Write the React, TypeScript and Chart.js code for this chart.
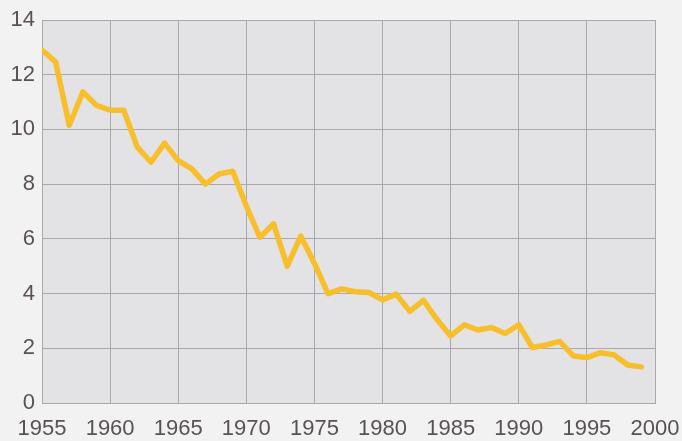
import React, { useEffect, useRef } from "react";
import { Chart, registerables } from "chart.js";

Chart.register(...registerables);

const years = [
  1955, 1956, 1957, 1958, 1959, 1960, 1961, 1962, 1963, 1964,
  1965, 1966, 1967, 1968, 1969, 1970, 1971, 1972, 1973, 1974,
  1975, 1976, 1977, 1978, 1979, 1980, 1981, 1982, 1983, 1984,
  1985, 1986, 1987, 1988, 1989, 1990, 1991, 1992, 1993, 1994,
  1995, 1996, 1997, 1998, 1999,
];
const values = [
  12.9, 12.47, 10.15, 11.37, 10.88, 10.7, 10.7, 9.35, 8.8, 9.5,
  8.86, 8.56, 8.0, 8.37, 8.47, 7.2, 6.05, 6.55, 5.0, 6.1,
  5.1, 4.0, 4.17, 4.07, 4.04, 3.77, 3.98, 3.35, 3.75, 3.05,
  2.45, 2.86, 2.67, 2.76, 2.54, 2.86, 2.03, 2.12, 2.25, 1.72,
  1.66, 1.84, 1.76, 1.39, 1.32,
];
const xTicks = [1955, 1960, 1965, 1970, 1975, 1980, 1985, 1990, 1995, 2000];
const yTicks = [0, 2, 4, 6, 8, 10, 12, 14];

const plotBg = {
  id: "plotBg",
  beforeDraw(chart: any) {
    const { ctx, chartArea, width, height } = chart;
    ctx.save();
    ctx.fillStyle = "#f2f2f2";
    ctx.fillRect(0, 0, width, height);
    ctx.fillStyle = "#e3e3e5";
    ctx.fillRect(chartArea.left, chartArea.top, chartArea.right - chartArea.left, chartArea.bottom - chartArea.top);
    ctx.restore();
  },
};

export default function App() {
  const ref = useRef<HTMLCanvasElement>(null);
  useEffect(() => {
    document.body.style.margin = "0";
    const canvas = ref.current!;
    const font = { family: "'Liberation Sans', Arial, sans-serif", size: 22 };
    const chart = new Chart(canvas, {
      type: "line",
      data: {
        datasets: [
          {
            data: years.map((y, i) => ({ x: y, y: values[i] })),
            borderColor: "#f8bf2c",
            borderWidth: 5.5,
            pointRadius: 0,
            tension: 0,
            borderJoinStyle: "round",
            borderCapStyle: "round",
          },
        ],
      },
      options: {
        responsive: false,
        animation: false,
        layout: { padding: { top: 20, right: 27, left: 0, bottom: 0 } },
        plugins: { legend: { display: false }, tooltip: { enabled: false } },
        scales: {
          x: {
            type: "linear",
            min: 1955,
            max: 2000,
            afterBuildTicks: (s: any) => {
              s.ticks = xTicks.map((v) => ({ value: v }));
            },
            afterFit: (s: any) => {
              s.height = 38;
              s.paddingLeft = 0;
              s.paddingRight = 0;
            },
            ticks: {
              font,
              color: "#5a5156",
              padding: 13,
              maxRotation: 0,
              autoSkip: false,
              callback: (v: any) => String(v),
            },
            grid: { color: "#a9a9ac", lineWidth: 1, drawTicks: false },
            border: { display: true, color: "#a9a9ac" },
          },
          y: {
            min: 0,
            max: 14,
            afterBuildTicks: (s: any) => {
              s.ticks = yTicks.map((v) => ({ value: v }));
            },
            afterFit: (s: any) => {
              s.width = 42;
              s.paddingTop = 0;
              s.paddingBottom = 0;
            },
            ticks: { font, color: "#5a5156", padding: 7 },
            grid: { color: "#a9a9ac", lineWidth: 1, drawTicks: false },
            border: { display: true, color: "#a9a9ac" },
          },
        },
      },
      plugins: [plotBg],
    } as any);
    return () => chart.destroy();
  }, []);
  return <canvas ref={ref} width={682} height={441} style={{ display: "block" }} />;
}
